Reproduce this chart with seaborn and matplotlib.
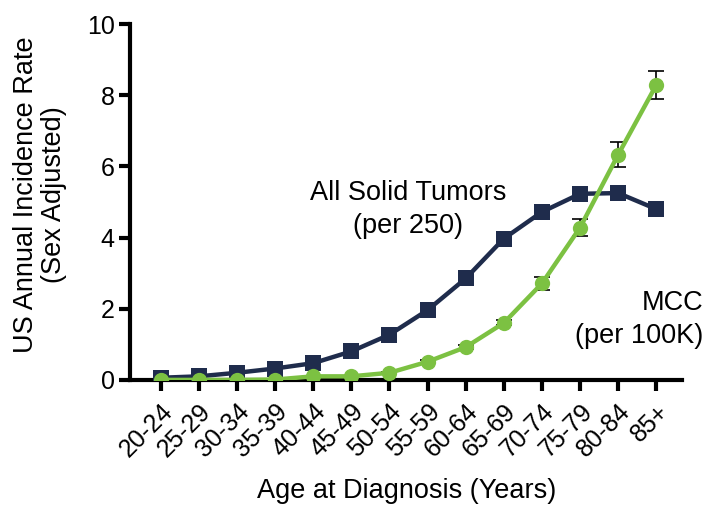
import matplotlib
matplotlib.use("Agg")
import matplotlib.pyplot as plt
import numpy as np
import pandas as pd
import seaborn as sns

age_groups = ["20-24", "25-29", "30-34", "35-39", "40-44", "45-49", "50-54",
              "55-59", "60-64", "65-69", "70-74", "75-79", "80-84", "85+"]
solid_tumors = [0.06, 0.1, 0.2, 0.32, 0.47, 0.8, 1.27, 1.96, 2.85, 3.97, 4.72, 5.23, 5.25, 4.8]
mcc = [0.0, 0.0, 0.0, 0.01, 0.1, 0.1, 0.2, 0.51, 0.92, 1.6, 2.71, 4.28, 6.33, 8.29]
mcc_err = [0.01, 0.01, 0.01, 0.01, 0.02, 0.02, 0.03, 0.04, 0.05, 0.07, 0.18, 0.24, 0.36, 0.4]

navy = "#1f2c4c"
green = "#7cc142"

sns.set_theme(style="white")
plt.rcParams["font.family"] = ["Liberation Sans", "DejaVu Sans"]
plt.rcParams.update({"text.color": "black", "axes.labelcolor": "black",
                     "xtick.color": "black", "ytick.color": "black"})

df = pd.DataFrame({"age": age_groups, "tumors": solid_tumors, "mcc": mcc, "err": mcc_err})
df["pos"] = np.arange(len(df))

fig = plt.figure(figsize=(7.07, 5.12), dpi=100)
ax = fig.add_axes([0.184, 0.258, 0.781, 0.695])

sns.lineplot(data=df, x="pos", y="tumors", color=navy, lw=3.2, marker="s",
             markersize=11, markeredgewidth=0, ax=ax, zorder=3)
ax.errorbar(df["pos"], df["mcc"], yerr=df["err"], fmt="none", ecolor="black",
            elinewidth=1.2, capsize=5.5, capthick=1.2, zorder=2)
sns.lineplot(data=df, x="pos", y="mcc", color=green, lw=3.2, marker="o",
             markersize=11, markeredgewidth=0, ax=ax, zorder=4)

ax.set_xlim(-0.8, 13.68)
ax.set_ylim(0, 10)
ax.set_yticks([0, 2, 4, 6, 8, 10])
ax.set_xticks(df["pos"])
ax.set_xticklabels(age_groups, rotation=45, ha="right", rotation_mode="anchor")
ax.tick_params(axis="both", which="major", length=8, width=3, color="black",
               labelsize=18, labelcolor="black", direction="out", pad=3)
ax.tick_params(axis="x", pad=6)
ax.tick_params(left=True, bottom=True)
for side in ["top", "right"]:
    ax.spines[side].set_visible(False)
for side in ["left", "bottom"]:
    ax.spines[side].set_linewidth(3)
    ax.spines[side].set_color("black")
ax.set_xlabel("Age at Diagnosis (Years)", fontsize=19.5)
ax.xaxis.set_label_coords(0.5, -0.275)
ax.set_ylabel("US Annual Incidence Rate\n(Sex Adjusted)", fontsize=19.5, linespacing=1.1)
ax.yaxis.set_label_coords(-0.115, 0.52)

ax.text(6.5, 4.8, "All Solid Tumors\n(per 250)", ha="center", va="center",
        fontsize=19.5, linespacing=1.35)
ax.text(14.23, 1.71, "MCC\n(per 100K)", ha="right", va="center",
        fontsize=19.5, linespacing=1.35, clip_on=False)

fig.savefig("out.png", dpi=100)
